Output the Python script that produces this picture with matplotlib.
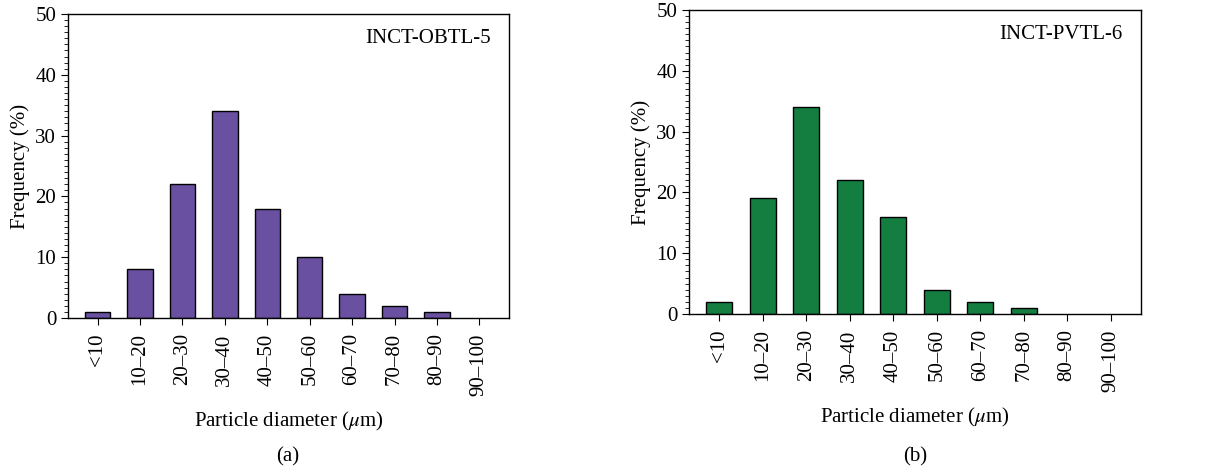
import numpy as np
import matplotlib.pyplot as plt
from matplotlib.ticker import MultipleLocator

# 粒径分布数据 (%)
size_bins = ['<10', '10–20', '20–30', '30–40', '40–50',
             '50–60', '60–70', '70–80', '80–90', '90–100']
freq_obtl = [1, 8, 22, 34, 18, 10, 4, 2, 1, 0]
freq_pvtl = [2, 19, 34, 22, 16, 4, 2, 1, 0, 0]

plt.rcParams['font.family'] = ['Liberation Serif', 'DejaVu Serif']
plt.rcParams['mathtext.fontset'] = 'stix'

FS = 15


def draw_panel(ax, values, color, name):
    x = np.arange(len(size_bins))
    # 零值柱不画边框
    lw = [1.0 if v > 0 else 0 for v in values]
    ax.bar(x, values, width=0.6, color=color, edgecolor='black', linewidth=lw)
    ax.set_xlim(-0.7, len(size_bins) - 0.3)
    ax.set_ylim(0, 50)
    ax.set_xticks(x)
    ax.set_xticklabels(size_bins, rotation=90, fontsize=FS)
    ax.yaxis.set_major_locator(MultipleLocator(10))
    ax.yaxis.set_minor_locator(MultipleLocator(1))
    ax.tick_params(axis='y', which='major', labelsize=FS, length=5, direction='out')
    ax.tick_params(axis='y', which='minor', length=3, direction='out')
    ax.tick_params(axis='x', length=5, direction='out', pad=6)
    ax.set_ylabel('Frequency (%)', fontsize=FS)
    ax.set_xlabel(r'Particle diameter ($\mu$m)', fontsize=FS, labelpad=10)
    ax.text(0.96, 0.92, name, transform=ax.transAxes, ha='right', va='center', fontsize=FS)
    for s in ax.spines.values():
        s.set_linewidth(1.0)


W, H = 1226, 471
fig = plt.figure(figsize=(W / 100, H / 100), dpi=100)
ax1 = fig.add_axes([68 / W, (H - 318) / H, 441 / W, 304 / H])
ax2 = fig.add_axes([689 / W, (H - 314) / H, 452 / W, 304 / H])

draw_panel(ax1, freq_obtl, '#6950a1', 'INCT-OBTL-5')
draw_panel(ax2, freq_pvtl, '#137e40', 'INCT-PVTL-6')

fig.text(288 / W, 1 - 457 / H, '(a)', ha='center', va='center', fontsize=FS)
fig.text(915 / W, 1 - 457 / H, '(b)', ha='center', va='center', fontsize=FS)

fig.savefig('out.png', dpi=100)
